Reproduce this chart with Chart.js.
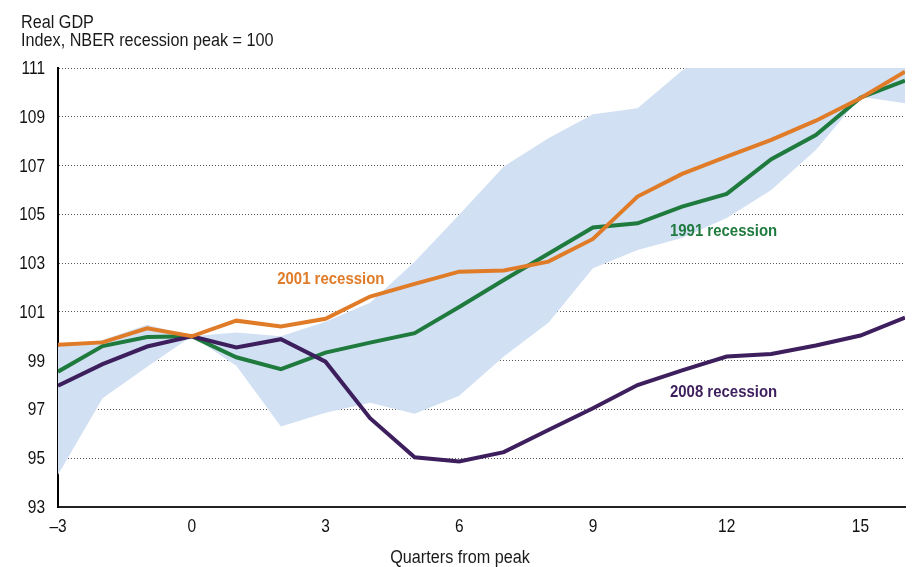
<!DOCTYPE html>
<html><head><meta charset="utf-8">
<script src="https://cdn.jsdelivr.net/npm/chart.js@4"></script>
<style>html,body{margin:0;padding:0;background:#fff}#wrap{width:916px;height:567px;position:relative}canvas{display:block}</style>
</head><body><div id="wrap"><canvas id="c" width="916" height="567"></canvas></div>
<script>
// ---- data ----
const quarters = [-3,-2,-1,0,1,2,3,4,5,6,7,8,9,10,11,12,13,14,15,16];
const gdp2001 = [99.65,99.75,100.33,100.0,100.64,100.4,100.72,101.63,102.15,102.65,102.7,103.06,103.99,105.73,106.66,107.37,108.05,108.84,109.76,110.85];
const gdp1991 = [98.55,99.6,99.97,100.0,99.14,98.65,99.33,99.74,100.13,101.2,102.31,103.38,104.46,104.63,105.32,105.84,107.26,108.25,109.78,110.48];
const gdp2008 = [97.97,98.86,99.58,100.0,99.54,99.88,98.96,96.64,95.04,94.87,95.25,96.16,97.05,98.0,98.6,99.17,99.27,99.62,100.03,100.77];
const rangeHigh = [99.58,99.85,100.47,100.0,100.15,100.0,100.6,101.37,103.06,104.98,106.96,108.12,109.1,109.35,110.9,111.8,112.4,113.0,113.5,113.8];
const rangeLow = [94.32,97.46,98.75,100.0,98.79,96.3,96.86,97.27,96.82,97.56,99.17,100.55,102.79,103.54,104.03,104.85,106.0,107.64,109.82,109.55];
const xTickValues = [-3,0,3,6,9,12,15];
const yTickValues = [93,95,97,99,101,103,105,107,109,111];
const titleLines = ['Real GDP','Index, NBER recession peak = 100'];
const xAxisTitle = 'Quarters from peak';
const seriesLabels = ['2001 recession','1991 recession','2008 recession'];
const labelAnchors = [[3.12,102.35],[11.93,104.32],[11.93,97.72]];

const FONT = '"Liberation Sans","Arial",sans-serif';
const C2001 = '#E07B28', C1991 = '#1F7A3D', C2008 = '#3E1F5E', CBAND = '#D1E0F3';
const pts = arr => arr.map((v,i)=>({x:quarters[i],y:v}));
const fmtX = v => v<0 ? '\u2013'+Math.abs(v) : String(v);

function narrowText(ctx, text, x, y, sx){
  ctx.save(); ctx.translate(x, y); ctx.scale(sx, 1); ctx.fillText(text, 0, 0); ctx.restore();
}

const textPlugin = {
  id:'texts',
  afterDatasetsDraw(chart){
    const {ctx, scales:{x,y}} = chart;
    ctx.save();
    ctx.font = 'bold 17px ' + FONT;
    ctx.textAlign = 'center'; ctx.textBaseline = 'middle';
    const cols = [C2001, C1991, C2008];
    seriesLabels.forEach((t,i)=>{
      ctx.fillStyle = cols[i];
      narrowText(ctx, t, x.getPixelForValue(labelAnchors[i][0]), y.getPixelForValue(labelAnchors[i][1]), 0.88);
    });
    ctx.restore();
  },
  afterDraw(chart){
    const {ctx, scales:{x,y}} = chart;
    ctx.save();
    ctx.fillStyle = '#1a1a1a';
    ctx.font = '18px ' + FONT;
    ctx.textAlign = 'left'; ctx.textBaseline = 'alphabetic';
    narrowText(ctx, titleLines[0], 21, 28, 0.9);
    narrowText(ctx, titleLines[1], 21, 46, 0.9);
    ctx.textAlign = 'center';
    narrowText(ctx, xAxisTitle, 460, 563, 0.9);
    // tick labels, placed by the library's scales
    ctx.fillStyle = '#111';
    ctx.textBaseline = 'middle';
    ctx.textAlign = 'center';
    x.ticks.forEach(t=>{ narrowText(ctx, fmtX(t.value), x.getPixelForValue(t.value), x.top + 20, 0.86); });
    ctx.textAlign = 'right';
    y.ticks.forEach(t=>{ narrowText(ctx, String(t.value), y.right - 13, y.getPixelForValue(t.value) + 1, 0.86); });
    ctx.restore();
  }
};

new Chart(document.getElementById('c'), {
  type:'line',
  data:{
    datasets:[
      {label:'2001', data:pts(gdp2001), borderColor:C2001, borderWidth:4, pointRadius:0, fill:false, order:1, tension:0},
      {label:'2008', data:pts(gdp2008), borderColor:C2008, borderWidth:4, pointRadius:0, fill:false, order:2, tension:0},
      {label:'1991', data:pts(gdp1991), borderColor:C1991, borderWidth:4, pointRadius:0, fill:false, order:3, tension:0},
      {label:'high', data:pts(rangeHigh), borderWidth:0, borderColor:'rgba(0,0,0,0)', backgroundColor:CBAND, pointRadius:0, fill:'+1', order:10, tension:0},
      {label:'low', data:pts(rangeLow), borderWidth:0, borderColor:'rgba(0,0,0,0)', backgroundColor:CBAND, pointRadius:0, fill:false, order:11, tension:0}
    ]
  },
  options:{
    responsive:false, animation:false,
    layout:{padding:{top:68,right:11,left:0,bottom:0}},
    plugins:{legend:{display:false}, tooltip:{enabled:false}},
    scales:{
      x:{
        type:'linear', min:-3, max:16,
        afterBuildTicks:s=>{s.ticks = xTickValues.map(v=>({value:v}));},
        afterFit:s=>{s.height = 60;},
        grid:{display:false},
        border:{display:true, color:'#222', width:2},
        ticks:{display:false, autoSkip:false, maxRotation:0}
      },
      y:{
        type:'linear', min:93, max:111,
        afterBuildTicks:s=>{s.ticks = yTickValues.map(v=>({value:v}));},
        afterFit:s=>{s.width = 58;},
        grid:{drawTicks:false, lineWidth:1, color:c=> (c.tick && c.tick.value===93) ? 'rgba(0,0,0,0)' : '#555'},
        border:{display:true, color:'#000', width:2, dash:[1,2]},
        ticks:{display:false}
      }
    }
  },
  plugins:[textPlugin]
});
</script></body></html>
